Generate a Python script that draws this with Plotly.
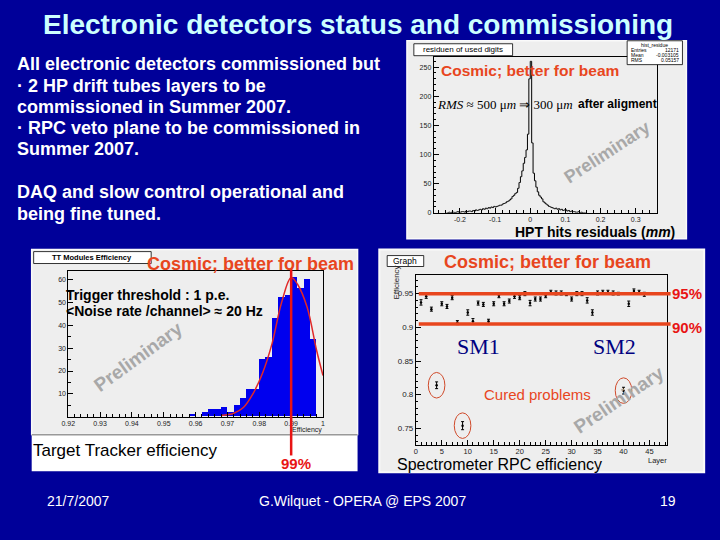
import plotly.graph_objects as go

W, H = 720, 540


def px(x):
    return x / W


def py(y):
    return 1 - y / H


# ---------------- data ----------------
# HPT residual histogram (top right)
res_first_center = -0.238
res_bin_width = 0.004
res_counts = [0, 0, 1, 0, 1, 1, 0, 1, 2, 1,
              1, 2, 2, 1, 3, 2, 3, 3, 2, 4,
              3, 5, 4, 5, 6, 5, 7, 6, 8, 7,
              9, 8, 10, 9, 11, 10, 11, 12, 13, 13,
              15, 16, 17, 19, 20, 22, 24, 28, 30, 33,
              35, 42, 52, 62, 72, 85, 95, 108, 135, 230,
              260, 120, 68, 55, 44, 36, 30, 27, 24, 19,
              17, 15, 13, 11, 10, 9, 8, 7, 8, 6,
              7, 5, 6, 4, 5, 5, 3, 4, 2, 3,
              2, 2, 1, 1, 2, 0, 1, 0, 0, 0]
res_xticks = [-0.2, -0.1, 0, 0.1, 0.2, 0.3]
res_xticktext = ["-0.2", "-0.1", "0", "0.1", "0.2", "0.3"]
res_yticks = [0, 50, 100, 150, 200, 250]
stats_labels = ["Entries", "Mean", "RMS"]
stats_values = ["12171", "-0.003105", "0.05157"]

# TT module efficiency histogram (bottom left)
tt_first_center = 0.959
tt_bin_width = 0.002
tt_counts = [1, 0, 2, 3, 3, 4, 2, 5, 8, 12, 12, 25, 26, 43, 52, 53, 61, 56, 60, 34, 0]
fit_eff = [0.968, 0.972, 0.975, 0.978, 0.981, 0.984, 0.987, 0.990, 0.992, 0.995, 0.998, 1.000]
fit_counts = [0.5, 1.5, 4, 10, 19, 32, 50, 61, 58, 48, 29, 18]
tt_peak = 0.99
tt_xticks = [0.92, 0.93, 0.94, 0.95, 0.96, 0.97, 0.98, 0.99, 1.0]
tt_xticktext = ["0.92", "0.93", "0.94", "0.95", "0.96", "0.97", "0.98", "0.99", "1"]
tt_yticks = [10, 20, 30, 40, 50, 60]

# Spectrometer RPC efficiency per layer (bottom right)
rpc_layers = list(range(1, 45))
rpc_eff = [0.937, 0.946, 0.927, 0.814, 0.935, 0.931, 0.944, 0.907, 0.754, 0.922,
           0.909, 0.936, 0.934, 0.909, 0.935, 0.947, 0.935, 0.939, 0.946, 0.944,
           0.950, 0.936, 0.942, 0.942, 0.947, 0.952, 0.951, 0.951, 0.949, 0.942,
           0.950, 0.950, 0.940, 0.922, 0.951, 0.952, 0.952, 0.951, 0.950, 0.806,
           0.935, 0.954, 0.952, 0.949]
rpc_err = [0.004, 0.003, 0.003, 0.005, 0.003, 0.003, 0.003, 0.003, 0.006, 0.004,
           0.004, 0.003, 0.003, 0.003, 0.003, 0.003, 0.003, 0.003, 0.003, 0.003,
           0.003, 0.004, 0.003, 0.003, 0.003, 0.003, 0.003, 0.003, 0.002, 0.003,
           0.003, 0.003, 0.004, 0.004, 0.003, 0.003, 0.003, 0.003, 0.002, 0.005,
           0.004, 0.003, 0.003, 0.003]
rpc_thresholds = [0.95, 0.905]
rpc_threshold_labels = ["95%", "90%"]
cured_layers = [4, 9, 40]
rpc_xticks = [0, 5, 10, 15, 20, 25, 30, 35, 40, 45]
rpc_yticks = [0.75, 0.8, 0.85, 0.9, 0.95]
rpc_yticktext = ["0.75", "0.8", "0.85", "0.9", "0.95"]

# ---------------- styles ----------------
NAVY = "#000099"
TITLE_C = "#ccffff"
ORANGE = "#e8461e"
RED = "#e81414"
PANEL = "#eeeeee"
SANS = "Liberation Sans"
SERIF = "Liberation Serif"

fig = go.Figure()

fig.add_trace(go.Scatter(
    x0=res_first_center, dx=res_bin_width, y=res_counts, mode="lines",
    line=dict(color="black", width=1, shape="hvh"), xaxis="x", yaxis="y",
    showlegend=False, hoverinfo="skip"))

fig.add_trace(go.Bar(
    x0=tt_first_center, dx=tt_bin_width, y=tt_counts, width=tt_bin_width,
    marker=dict(color="#0000ee", line=dict(width=0)), xaxis="x2", yaxis="y2",
    showlegend=False, hoverinfo="skip"))
fig.add_trace(go.Scatter(
    x=fit_eff, y=fit_counts, mode="lines",
    line=dict(color="#e02828", width=1.5, shape="spline"), xaxis="x2", yaxis="y2",
    showlegend=False, hoverinfo="skip"))

fig.add_trace(go.Scatter(
    x=rpc_layers, y=rpc_eff, mode="markers",
    marker=dict(size=2.5, color="black"),
    error_y=dict(type="data", array=rpc_err, color="black", thickness=1, width=1.5),
    xaxis="x3", yaxis="y3", showlegend=False, hoverinfo="skip"))


def axis(domain, rng, tickvals, ticktext, fs, minor_dtick):
    return dict(domain=domain, range=rng, tickmode="array", tickvals=tickvals,
                ticktext=ticktext, ticks="inside", ticklen=5, tickwidth=0.8,
                tickcolor="black", showline=True, linecolor="black", linewidth=0.8,
                mirror=True, showgrid=False, zeroline=False,
                tickfont=dict(family=SANS, size=fs, color="#222222"),
                minor=dict(ticks="inside", ticklen=2.5, tickcolor="black",
                           tickwidth=0.6, dtick=minor_dtick, tick0=0),
                fixedrange=True)


layout_axes = dict(
    xaxis=axis([px(432), px(658)], [-0.275, 0.36], res_xticks, res_xticktext, 7, 0.02),
    yaxis=axis([py(214), py(57)], [0, 268], res_yticks, [str(v) for v in res_yticks], 7, 10),
    xaxis2=axis([px(62), px(320)], [0.92, 1.0], tt_xticks, tt_xticktext, 7, 0.002),
    yaxis2=axis([py(419), py(273)], [0, 63.6], tt_yticks, [str(v) for v in tt_yticks], 7, 5),
    xaxis3=axis([px(414), px(668)], [0, 48.3], rpc_xticks, [str(v) for v in rpc_xticks], 7.5, 1),
    yaxis3=axis([py(447), py(277)], [0.726, 0.977], rpc_yticks, rpc_yticktext, 8, 0.01),
)
layout_axes["xaxis"]["anchor"] = "y"
layout_axes["yaxis"]["anchor"] = "x"
layout_axes["xaxis2"]["anchor"] = "y2"
layout_axes["yaxis2"]["anchor"] = "x2"
layout_axes["xaxis3"]["anchor"] = "y3"
layout_axes["yaxis3"]["anchor"] = "x3"

shapes = []


def rect(x0, y0, x1, y1, fill, line=None, lw=0, layer="below"):
    shapes.append(dict(type="rect", xref="paper", yref="paper",
                       x0=px(x0), x1=px(x1), y0=py(y1), y1=py(y0),
                       fillcolor=fill, line=dict(color=line or fill, width=lw),
                       layer=layer))


# panels
rect(405, 41, 688, 240, PANEL, "#fafafa", 1.5)
rect(25, 251, 355, 474, "white")
rect(25, 251, 355, 437, PANEL, "#fafafa", 1.5)
rect(25, 436.5, 355, 438, "#999999")
rect(377, 251, 706, 475, PANEL, "#fafafa", 2)
# ROOT title / stats boxes
rect(412, 44, 512, 56, "white", "black", 0.8, "above")
rect(628, 41, 684, 65, "white", "black", 0.8, "above")
rect(27, 253, 146, 265, "white", "black", 0.8, "above")
rect(385, 257, 422, 268, "white", "black", 0.8, "above")

# 99% line
shapes.append(dict(type="line", xref="x2", yref="paper", x0=tt_peak, x1=tt_peak,
                   y0=py(458), y1=py(270), line=dict(color=RED, width=2.5), layer="above"))
# RPC thresholds
for t in rpc_thresholds:
    shapes.append(dict(type="line", xref="paper", yref="y3", x0=px(417), x1=px(672),
                       y0=t, y1=t, line=dict(color=ORANGE, width=3.5), layer="above"))
# cured-problem ellipses
for L in cured_layers:
    e = rpc_eff[rpc_layers.index(L)]
    shapes.append(dict(type="circle", xref="x3", yref="y3", x0=L - 1.6, x1=L + 1.6,
                       y0=e - 0.019, y1=e + 0.019,
                       line=dict(color="#d04a2a", width=1), layer="above"))

ann = []


def text(x, y, s, size, color="white", anchor="left", family=SANS, angle=0, yanchor="middle"):
    ann.append(dict(x=px(x), y=py(y), xref="paper", yref="paper", text=s,
                    showarrow=False, xanchor=anchor, yanchor=yanchor, textangle=angle,
                    font=dict(family=family, size=size, color=color), align="left"))


# Title
text(355, 25, "<b>Electronic detectors status and commissioning</b>", 28, TITLE_C, "center")

# body text
body = [(64, "All electronic detectors commissioned but"),
        (86, "· 2 HP drift tubes layers to be"),
        (108, "commissioned in Summer 2007."),
        (129, "· RPC veto plane to be commissioned in"),
        (150, "Summer 2007."),
        (193, "DAQ and slow control operational and"),
        (215, "being fine tuned.")]
for y, s in body:
    text(8, y, "<b>" + s + "</b>", 18)

# panel 1 texts
text(462, 50, "residuen of used digits", 8, "black", "center")
text(656, 45, "hist_residue", 5, "black", "center")
for i, (lab, val) in enumerate(zip(stats_labels, stats_values)):
    text(630, 50.5 + 5 * i, lab, 5, "black", "left")
    text(683, 50.5 + 5 * i, val, 5, "black", "right")
text(437, 71, "<b>Cosmic; better for beam</b>", 15.5, ORANGE)
text(433, 105, "<i>RMS</i> ≈ 500 μ<i>m</i> ⇒ 300 μ<i>m</i>", 13, "black", "left", SERIF)
text(576, 105, "<b>after aligment</b>", 12, "black")
text(608, 153, "<b>Preliminary</b>", 18, "#a8a8a8", "center", angle=-33)
text(678, 233, "<b>HPT hits residuals (<i>mm</i>)</b>", 14, "black", "right")

# panel 2 texts
text(86.5, 259, "<b>TT Modules Efficiency</b>", 7.5, "black", "center")
text(140, 265, "<b>Cosmic; better for beam</b>", 18, ORANGE)
text(58, 297, "<b>Trigger threshold : 1 p.e.</b>", 14, "black")
text(58, 313, "<b>&lt;Noise rate /channel&gt; ≈ 20 Hz</b>", 14, "black")
text(133, 358, "<b>Preliminary</b>", 19, "#a8a8a8", "center", angle=-36)
text(321, 432, "Efficiency", 7, "#222222", "right")
text(24, 453, "Target Tracker efficiency", 17, "black")
text(293, 466, "<b>99%</b>", 15, RED, "center")

# panel 3 texts
text(403.5, 262.5, "Graph", 8.5, "black", "center")
text(440, 263, "<b>Cosmic; better for beam</b>", 18, ORANGE)
text(394, 284, "Efficiency", 8, "#222222", "center", angle=-90)
for lab, yy in zip(rpc_threshold_labels, [295, 329]):
    text(671, yy, "<b>" + lab + "</b>", 15, RED)
text(477, 348, "SM1", 22, "#000080", "center", SERIF)
text(615, 348, "SM2", 22, "#000080", "center", SERIF)
text(537, 397, "Cured problems", 15, ORANGE, "center")
text(620, 402, "<b>Preliminary</b>", 19, "#a8a8a8", "center", angle=-34)
text(670, 463.5, "Layer", 7.5, "#222222", "right")
text(393, 467.5, "Spectrometer RPC efficiency", 16, "black")

# footer
text(72, 504, "21/7/2007", 14, "white", "center")
text(360, 504, "G.Wilquet - OPERA @ EPS 2007", 14, "white", "center")
text(669, 504, "19", 14, "white", "center")

fig.update_layout(
    width=W, height=H, margin=dict(l=0, r=0, t=0, b=0),
    paper_bgcolor=NAVY, plot_bgcolor="rgba(0,0,0,0)",
    shapes=shapes, annotations=ann, bargap=0, showlegend=False,
    **layout_axes)

fig.write_html("out.html", config={"displayModeBar": False},
               post_script="document.body.style.margin='0px';document.body.style.overflow='hidden';")
